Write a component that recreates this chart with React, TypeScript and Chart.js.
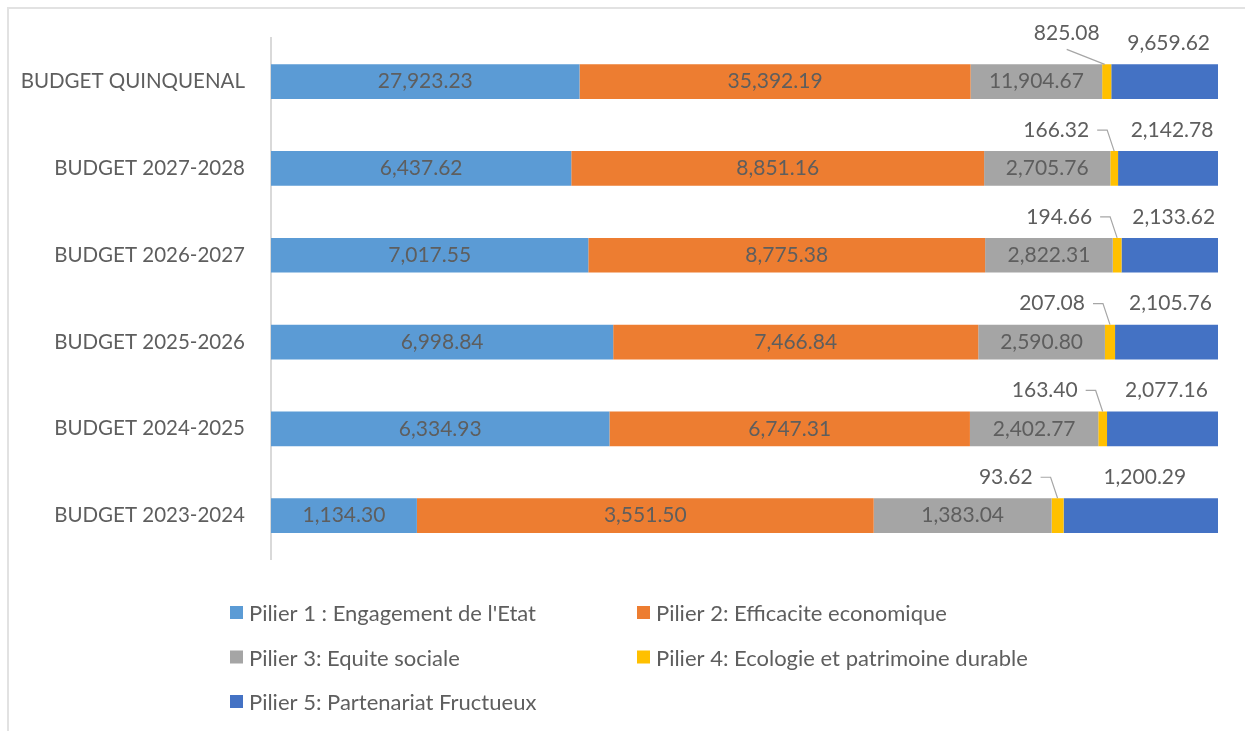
import React, { useEffect, useRef } from "react";
import { Chart, registerables } from "chart.js";

Chart.register(...registerables);

const categories = [
  "BUDGET QUINQUENAL",
  "BUDGET 2027-2028",
  "BUDGET 2026-2027",
  "BUDGET 2025-2026",
  "BUDGET 2024-2025",
  "BUDGET 2023-2024",
];

const seriesNames = [
  "Pilier 1 : Engagement de l'Etat",
  "Pilier 2: Efficacite economique",
  "Pilier 3: Equite sociale",
  "Pilier 4: Ecologie et patrimoine durable",
  "Pilier 5: Partenariat Fructueux",
];

const pilier1 = [27923.23, 6437.62, 7017.55, 6998.84, 6334.93, 1134.3];
const pilier2 = [35392.19, 8851.16, 8775.38, 7466.84, 6747.31, 3551.5];
const pilier3 = [11904.67, 2705.76, 2822.31, 2590.8, 2402.77, 1383.04];
const pilier4 = [825.08, 166.32, 194.66, 207.08, 163.4, 93.62];
const pilier5 = [9659.62, 2142.78, 2133.62, 2105.76, 2077.16, 1200.29];

const colors = ["#5B9BD5", "#ED7D31", "#A5A5A5", "#FFC000", "#4472C4"];

const FONT = "Lato, 'Open Sans', sans-serif";
const TEXT = "#5E5E5E";

const fmt = (v: number) =>
  v.toLocaleString("en-US", { minimumFractionDigits: 2, maximumFractionDigits: 2 });

export default function App() {
  const ref = useRef<HTMLCanvasElement>(null);

  useEffect(() => {
    if (!ref.current) return;
    const raw = [pilier1, pilier2, pilier3, pilier4, pilier5];
    const totals = categories.map((_, i) => raw.reduce((s, arr) => s + arr[i], 0));

    const labelPlugin = {
      id: "valueLabels",
      afterDatasetsDraw(chart: any) {
        const ctx = chart.ctx;
        ctx.save();
        ctx.font = `21px ${FONT}`;
        ctx.fillStyle = TEXT;
        ctx.textBaseline = "middle";
        chart.data.datasets.forEach((ds: any, di: number) => {
          const meta = chart.getDatasetMeta(di);
          meta.data.forEach((bar: any, i: number) => {
            const v = raw[di][i];
            const text = fmt(v);
            const left = bar.base;
            const right = bar.x;
            const cx = (left + right) / 2;
            const top = bar.y - bar.height / 2;
            if (di < 3) {
              ctx.textAlign = "center";
              ctx.fillText(text, cx, bar.y);
            } else if (di === 4) {
              ctx.textAlign = "center";
              ctx.fillText(text, cx + 4, top - 21);
            } else {
              ctx.strokeStyle = "#A6A6A6";
              ctx.lineWidth = 1.2;
              if (i === 0) {
                ctx.textAlign = "center";
                ctx.fillText(text, cx - 40, top - 31);
                ctx.beginPath();
                ctx.moveTo(cx - 40, top - 15);
                ctx.lineTo(cx - 2, top);
                ctx.stroke();
              } else {
                ctx.textAlign = "right";
                ctx.fillText(text, cx - 25, top - 21);
                ctx.beginPath();
                ctx.moveTo(cx - 17, top - 21);
                ctx.lineTo(cx - 7, top - 21);
                ctx.lineTo(cx, top);
                ctx.stroke();
              }
            }
          });
        });
        ctx.restore();
      },
    };

    const legendPlugin = {
      id: "gridLegend",
      afterDraw(chart: any) {
        const ctx = chart.ctx;
        const area = chart.chartArea;
        ctx.save();
        ctx.font = `22px ${FONT}`;
        ctx.fillStyle = TEXT;
        ctx.textBaseline = "middle";
        ctx.textAlign = "left";
        const x0 = area.left - 41;
        const colW = 407;
        const y0 = area.bottom + 54;
        const rowH = 44.5;
        chart.data.datasets.forEach((ds: any, di: number) => {
          const col = di % 2;
          const row = Math.floor(di / 2);
          const x = x0 + col * colW;
          const y = y0 + row * rowH;
          ctx.fillStyle = ds.backgroundColor;
          ctx.fillRect(x, y - 7, 13, 13);
          ctx.fillStyle = TEXT;
          ctx.fillText(ds.label, x + 19, y + 1);
        });
        ctx.restore();
      },
    };

    const chart = new Chart(ref.current, {
      type: "bar",
      data: {
        labels: categories,
        datasets: raw.map((arr, di) => ({
          label: seriesNames[di],
          data: arr.map((v, i) => (v / totals[i]) * 100),
          backgroundColor: colors[di],
          borderWidth: 0,
          categoryPercentage: 0.8,
          barPercentage: 0.5,
        })),
      },
      options: {
        indexAxis: "y",
        responsive: false,
        animation: false,
        layout: { padding: { left: 0, right: 27, top: 37, bottom: 172 } },
        plugins: {
          legend: { display: false },
          tooltip: { enabled: false },
        },
        scales: {
          x: { stacked: true, min: 0, max: 100, display: false },
          y: {
            stacked: true,
            grid: { display: false, drawTicks: false },
            border: { display: true, color: "#D9D9D9", width: 2 },
            ticks: {
              color: TEXT,
              font: { size: 20.5, family: FONT },
              padding: 26,
            },
            afterFit: (s: any) => {
              s.width = 271;
            },
          },
        },
      },
      plugins: [labelPlugin, legendPlugin],
    });
    return () => chart.destroy();
  }, []);

  return (
    <div style={{ position: "absolute", left: 0, top: 0, width: 1245, height: 731, background: "#fff" }}>
      <div
        style={{
          position: "absolute",
          left: 7,
          top: 7,
          right: 0,
          bottom: -10,
          borderTop: "2px solid #E2E2E2",
          borderLeft: "2px solid #E2E2E2",
        }}
      />
      <canvas ref={ref} width={1245} height={731} style={{ position: "absolute", left: 0, top: 0 }} />
    </div>
  );
}
